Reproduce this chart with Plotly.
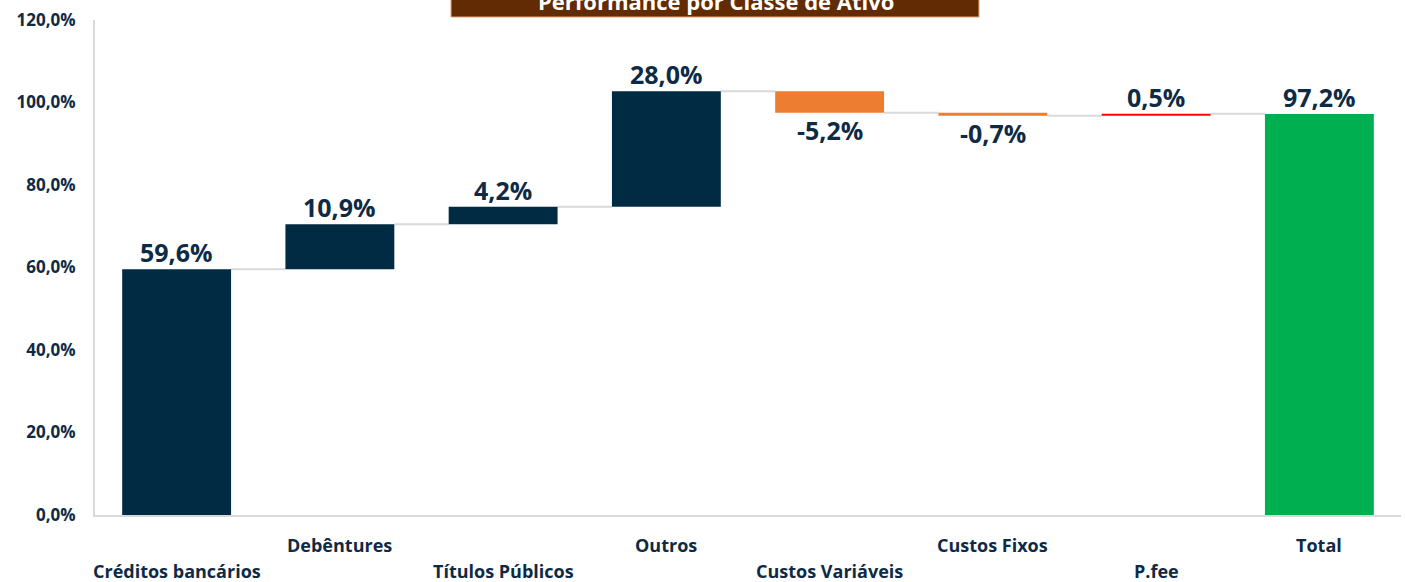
import plotly.graph_objects as go

# Waterfall data: contribution by asset class (%)
categories = ["Créditos bancários", "Debêntures", "Títulos Públicos", "Outros",
              "Custos Variáveis", "Custos Fixos", "P.fee", "Total"]
values = [59.6, 10.9, 4.2, 28.0, -5.2, -0.7, 0.5, 97.2]
labels = ["59,6%", "10,9%", "4,2%", "28,0%", "-5,2%", "-0,7%", "0,5%", "97,2%"]
colors = ["#012A43", "#012A43", "#012A43", "#012A43",
          "#ED7D31", "#ED7D31", "#FF0000", "#00B050"]
y_ticks = [0, 20, 40, 60, 80, 100, 120]
y_ticklabels = ["0,0%", "20,0%", "40,0%", "60,0%", "80,0%", "100,0%", "120,0%"]
title_text = "Performance por Classe de Ativo"

NAVY_TXT = "#0E2A45"
FONT = "Open Sans"

# bases and running totals
bases, ends = [], []
running = 0.0
for i, v in enumerate(values):
    if i == len(values) - 1:
        bases.append(0.0)
        ends.append(v)
    else:
        bases.append(running if v >= 0 else running + v)
        running += v
        ends.append(running)

bar_heights = [abs(v) for v in values]

fig = go.Figure()
fig.add_trace(go.Bar(
    x=list(range(len(categories))), y=bar_heights, base=bases,
    marker=dict(color=colors, line=dict(width=0)),
    hoverinfo="skip", showlegend=False,
))

# value labels: above positive bars, below negative bars
for i, v in enumerate(values):
    if v >= 0:
        y, anchor, shift = bases[i] + bar_heights[i], "bottom", -2
    else:
        y, anchor, shift = bases[i], "top", 2
    fig.add_annotation(x=i, y=y, xref="x", yref="y", text=labels[i],
                       showarrow=False, yanchor=anchor, yshift=shift,
                       font=dict(family=FONT, size=25, color=NAVY_TXT, weight="bold"))

# connector lines between consecutive bars
half = (1 - 0.333) / 2
for i in range(len(values) - 1):
    fig.add_shape(type="line", xref="x", yref="y",
                  x0=i + half, x1=i + 1 - half, y0=ends[i], y1=ends[i],
                  line=dict(color="#D9D9D9", width=2), layer="below")

# category labels alternating on two rows
for i, c in enumerate(categories):
    fig.add_annotation(x=i, y=0, xref="x", yref="paper", text=c,
                       showarrow=False, yanchor="middle",
                       yshift=-30 if i % 2 == 1 else -56,
                       font=dict(family=FONT, size=18, color=NAVY_TXT, weight="bold"))

# title banner at the top
fig.add_shape(type="rect", xref="paper", yref="paper",
              x0=(451 - 95) / 1306, x1=(979 - 95) / 1306,
              y0=1 + 3 / 495, y1=1 + 40 / 495,
              fillcolor="#622B03", line=dict(color="#E8A27A", width=1))
fig.add_annotation(x=(716 - 95) / 1306, y=1 + 19 / 495, xref="paper", yref="paper",
                   text=title_text, showarrow=False, yanchor="middle",
                   font=dict(family=FONT, size=22, color="white", weight="bold"))

fig.update_layout(
    width=1405, height=582,
    margin=dict(l=95, r=4, t=20, b=67),
    paper_bgcolor="white", plot_bgcolor="white",
    bargap=0.333,
    xaxis=dict(range=[-0.5, len(categories) - 0.5], showticklabels=False,
               showgrid=False, zeroline=False, showline=True,
               linecolor="#D9D9D9", linewidth=2, ticks=""),
    yaxis=dict(range=[0, 120], tickvals=y_ticks, ticktext=y_ticklabels,
               showgrid=False, zeroline=False, showline=True,
               linecolor="#D9D9D9", linewidth=2, ticks="", ticklabelstandoff=14,
               tickfont=dict(family=FONT, size=17, color=NAVY_TXT, weight="bold")),
)

fig.write_html("out.html")
